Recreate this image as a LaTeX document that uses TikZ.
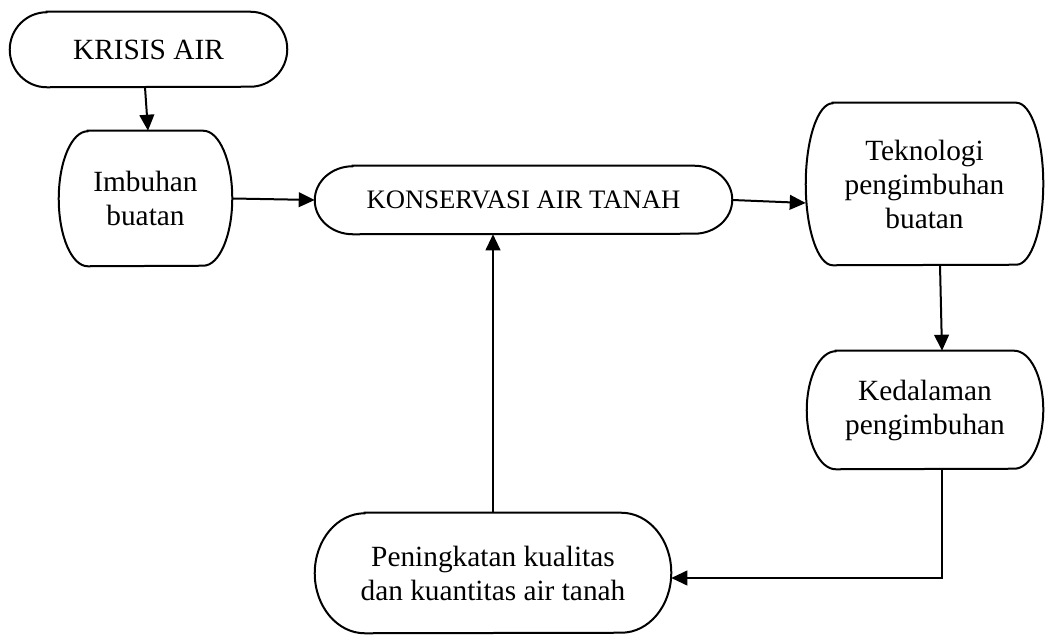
\documentclass[tikz,border=0pt]{standalone}
\usepackage{fontspec}
\setmainfont{Liberation Serif}
\usetikzlibrary{arrows.meta,calc}
\begin{document}
\begin{tikzpicture}[x=0.75pt,y=0.75pt,
  box/.style={rectangle,draw=none,inner sep=0pt,align=center,
    font=\fontsize{22}{25.5}\selectfont},
  outline/.style={draw=black,line width=1.5pt},
  arr/.style={draw=black,line width=1.5pt,-{Triangle[length=12pt,width=11pt]}},
  ln/.style={draw=black,line width=1.5pt}]
\useasboundingbox (0,0) rectangle (1045,635);
\node[box,minimum width=207.75pt,minimum height=56.25pt] (kr) at (148.5,585.5) {KRISIS AIR};
\node[box,minimum width=129.75pt,minimum height=101.25pt] (ib) at (145.5,436.5) {Imbuhan\\buatan};
\node[box,minimum width=312.75pt,minimum height=51pt,font=\fontsize{20}{24}\selectfont] (ks) at (523.5,435) {KONSERVASI AIR TANAH};
\node[box,minimum width=177.75pt,minimum height=121.5pt] (tk) at (924.5,451) {Teknologi\\pengimbuhan\\buatan};
\node[box,minimum width=177pt,minimum height=88.5pt] (kd) at (925,225) {Kedalaman\\pengimbuhan};
\node[box,minimum width=267pt,minimum height=90pt] (pk) at (493,62) {Peningkatan kualitas\\dan kuantitas air tanah};
\foreach \n/\rx/\ry in {kr/37/37.5, ib/29/67.5, ks/38/34, tk/27/81, kd/29/59, pk/50/60}{
  \draw[outline] ([xshift=\rx*0.75pt]\n.north west) -- ([xshift=-\rx*0.75pt]\n.north east)
    arc[start angle=90,end angle=-90,x radius=\rx,y radius=\ry]
    -- ([xshift=\rx*0.75pt]\n.south west)
    arc[start angle=270,end angle=90,x radius=\rx,y radius=\ry] -- cycle;
}
\draw[arr] ([xshift=-3.5*0.75pt]kr.south) -- ([xshift=2.5*0.75pt]ib.north);
\draw[arr] (ib.east) -- (ks.west);
\draw[arr] (ks.east) -- ([yshift=-19*0.75pt]tk.west);
\draw[arr] ([xshift=15.5*0.75pt]tk.south) -- ([xshift=17*0.75pt]kd.north);
\draw[arr] ([xshift=17*0.75pt]kd.south) |- ([yshift=-5*0.75pt]pk.east);
\draw[arr] (pk.north) -- (pk.north |- ks.south);
\end{tikzpicture}
\end{document}
